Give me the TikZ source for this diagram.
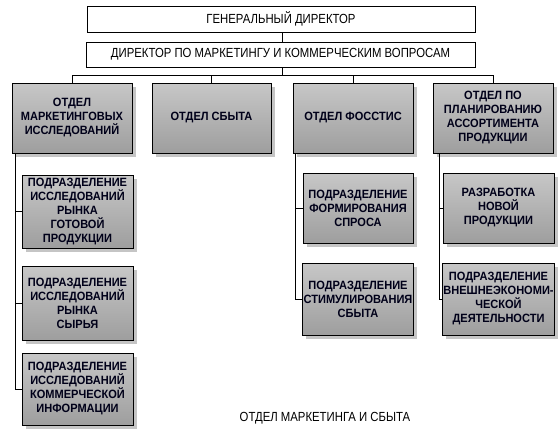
\documentclass[tikz,border=0pt]{standalone}
\usepackage{fontspec}
\setmainfont{Liberation Sans}[FakeStretch=0.86]
\newfontfamily\deptfont{Liberation Sans}[FakeStretch=0.92]
\usetikzlibrary{shadows}
\begin{document}
\begin{tikzpicture}[x=1pt,y=-1pt,
  conn/.style={draw=black,line width=0.9pt},
  topbox/.style={draw=black,line width=0.8pt,fill=white,inner sep=0pt,
    font=\fontsize{13.2}{15}\selectfont},
  dept/.style={draw=black,line width=0.8pt,inner sep=1pt,align=center,
    top color=black!22,middle color=white,bottom color=black!38,
    drop shadow={shadow xshift=3.5pt,shadow yshift=-3.5pt,fill=black!45,opacity=.5},
    font=\deptfont\bfseries\fontsize{12}{14}\selectfont,text=black!90!blue},
  capt/.style={font=\fontsize{13.2}{15}\selectfont,inner sep=0pt}]
\useasboundingbox (0,0) rectangle (558,434);
% top
\node[topbox,minimum width=388pt,minimum height=26pt] (gd) at (281,19) {ГЕНЕРАЛЬНЫЙ ДИРЕКТОР};
\node[topbox,minimum width=389pt,minimum height=25pt] (dm) at (280.5,54.5) {ДИРЕКТОР ПО МАРКЕТИНГУ И КОММЕРЧЕСКИМ ВОПРОСАМ};
% departments
\node[dept,minimum width=120pt,minimum height=70pt] (b1) at (72,118) {ОТДЕЛ\\МАРКЕТИНГОВЫХ\\ИССЛЕДОВАНИЙ};
\node[dept,minimum width=119pt,minimum height=70pt] (b2) at (211.5,118) {ОТДЕЛ СБЫТА};
\node[dept,minimum width=120pt,minimum height=70pt] (b3) at (353,118) {ОТДЕЛ ФОССТИС};
\node[dept,minimum width=120pt,minimum height=70pt] (b4) at (493,118) {ОТДЕЛ ПО\\ПЛАНИРОВАНИЮ\\АССОРТИМЕНТА\\ПРОДУКЦИИ};
% sub units
\node[dept,minimum width=111pt,minimum height=73pt] (sa) at (77.5,211.5) {ПОДРАЗДЕЛЕНИЕ\\ИССЛЕДОВАНИЙ\\РЫНКА\\ГОТОВОЙ\\ПРОДУКЦИИ};
\node[dept,minimum width=111pt,minimum height=74pt] (sb) at (77.5,303) {ПОДРАЗДЕЛЕНИЕ\\ИССЛЕДОВАНИЙ\\РЫНКА\\СЫРЬЯ};
\node[dept,minimum width=111pt,minimum height=72pt] (sc) at (77.5,389) {ПОДРАЗДЕЛЕНИЕ\\ИССЛЕДОВАНИЙ\\КОММЕРЧЕСКОЙ\\ИНФОРМАЦИИ};
\node[dept,minimum width=110pt,minimum height=70pt] (sd) at (358,208) {ПОДРАЗДЕЛЕНИЕ\\ФОРМИРОВАНИЯ\\СПРОСА};
\node[dept,minimum width=110pt,minimum height=72pt] (se) at (358,299) {ПОДРАЗДЕЛЕНИЕ\\СТИМУЛИРОВАНИЯ\\СБЫТА};
\node[dept,minimum width=111pt,minimum height=70pt] (sf) at (498.5,208) {РАЗРАБОТКА\\НОВОЙ\\ПРОДУКЦИИ};
\node[dept,minimum width=111pt,minimum height=72pt] (sg) at (498.5,299) {ПОДРАЗДЕЛЕНИЕ\\ВНЕШНЕЭКОНОМИ-\\ЧЕСКОЙ\\ДЕЯТЕЛЬНОСТИ};
% caption
\node[capt] (cap) at (325,418) {ОТДЕЛ МАРКЕТИНГА И СБЫТА};
% connectors
\coordinate (bus) at (282,75);
\draw[conn] (gd.south -| bus) -- (dm.north -| bus);
\draw[conn] (dm.south -| bus) -- (bus);
\draw[conn] (b1.north |- bus) -- (b4.north |- bus);
\foreach \b in {b1,b2,b3,b4} \draw[conn] (\b.north |- bus) -- (\b.north);
% left column
\coordinate (v1) at (15,153);
\draw[conn] (v1) -- (v1 |- sc.west);
\foreach \s in {sa,sb,sc} \draw[conn] (v1 |- \s.west) -- (\s.west);
% FOSSTIS column
\coordinate (v3) at (295,153);
\draw[conn] (v3) -- (v3 |- se.west);
\foreach \s in {sd,se} \draw[conn] (v3 |- \s.west) -- (\s.west);
% assortment column
\coordinate (v4) at (439,153);
\draw[conn] (v4) -- (v4 |- sg.west);
\foreach \s in {sf,sg} \draw[conn] (v4 |- \s.west) -- (\s.west);
\end{tikzpicture}
\end{document}
